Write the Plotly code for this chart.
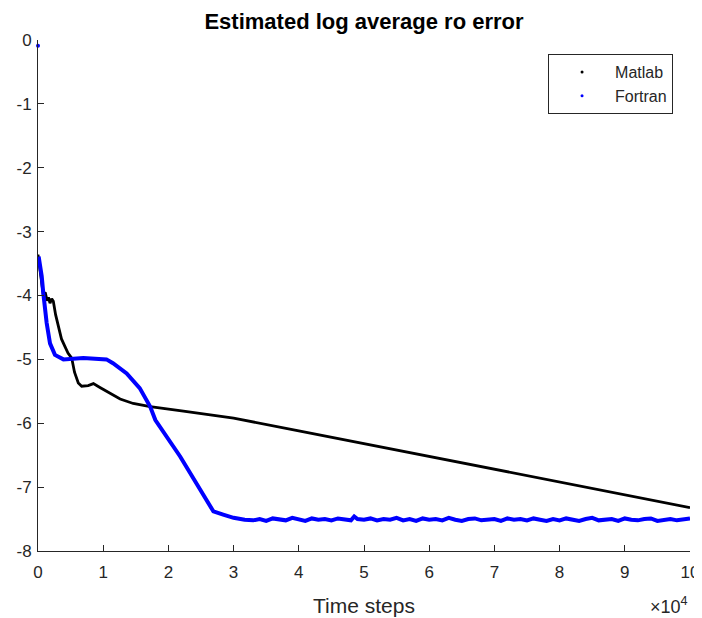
import plotly.graph_objects as go

# Time steps (raw) and estimated log average ro error
matlab_steps = [0, 400, 810, 1100, 1400, 1600, 1840, 2100, 2350, 2700, 3110, 3600, 4140,
                4600, 5170, 5600, 6180, 6700, 7700, 8500, 9500, 10500, 12600, 14600,
                17200, 22300, 30000, 40000, 50000, 60000, 70000, 80000, 90000, 100000]
matlab_err = [-3.36, -3.70, -3.99, -3.95, -4.08, -4.03, -4.12, -4.05, -4.09, -4.30, -4.49,
              -4.68, -4.80, -4.90, -4.98, -5.20, -5.37, -5.42, -5.41, -5.38, -5.44, -5.50,
              -5.62, -5.69, -5.74, -5.81, -5.92, -6.12, -6.32, -6.52, -6.72, -6.92, -7.12, -7.32]

fortran_steps = [0, 100, 570, 810, 1330, 1840, 2600, 3900, 6950, 10500, 11500, 13600,
                 15600, 17200, 18000, 21800, 26900, 28400, 30000, 31700,
                 33000, 34000, 35000, 36000, 37000, 38000, 39000, 40000, 41000, 42000,
                 43000, 44000, 45000, 46000, 47000, 48000, 48500, 49000, 50000,
                 51000, 52000, 53000, 54000, 55000, 56000, 57000, 58000, 59000, 60000,
                 61000, 62000, 63000, 64000, 65000, 66000, 67000, 68000, 69000, 70000,
                 71000, 72000, 73000, 74000, 75000, 76000, 77000, 78000, 79000, 80000,
                 81000, 82000, 83000, 84000, 85000, 86000, 87000, 88000, 89000, 90000,
                 91000, 92000, 93000, 94000, 95000, 96000, 97000, 98000, 99000, 100000]
fortran_err = [-0.09, -3.39, -3.70, -3.96, -4.43, -4.75, -4.93, -5.00, -4.98, -5.00, -5.06,
               -5.22, -5.45, -5.74, -5.95, -6.52, -7.38, -7.43, -7.48, -7.51,
               -7.52, -7.50, -7.53, -7.49, -7.51, -7.52, -7.48, -7.50, -7.53, -7.49,
               -7.51, -7.50, -7.52, -7.49, -7.51, -7.52, -7.46, -7.50, -7.51,
               -7.49, -7.52, -7.50, -7.51, -7.48, -7.52, -7.50, -7.53, -7.49, -7.51,
               -7.50, -7.52, -7.48, -7.51, -7.53, -7.50, -7.49, -7.52, -7.51, -7.50,
               -7.53, -7.49, -7.51, -7.50, -7.52, -7.49, -7.51, -7.53, -7.50, -7.52,
               -7.49, -7.51, -7.53, -7.50, -7.48, -7.52, -7.51, -7.50, -7.53, -7.49,
               -7.51, -7.52, -7.50, -7.49, -7.53, -7.51, -7.50, -7.52, -7.50, -7.49]

x_tickvals = [0, 10000, 20000, 30000, 40000, 50000, 60000, 70000, 80000, 90000, 100000]
x_ticktext = ["0", "1", "2", "3", "4", "5", "6", "7", "8", "9", "10"]
y_tickvals = [0, -1, -2, -3, -4, -5, -6, -7, -8]
y_ticktext = ["0", "-1", "-2", "-3", "-4", "-5", "-6", "-7", "-8"]

FONT = "Liberation Sans, Arial, Helvetica, sans-serif"
AX = "#262626"

fig = go.Figure()
fig.add_trace(go.Scatter(x=matlab_steps, y=matlab_err, mode="lines",
                         line=dict(color="#000000", width=2.8), showlegend=False,
                         name="Matlab"))
# first Fortran sample is an isolated dot; the rest form the dense curve
fig.add_trace(go.Scatter(x=fortran_steps[:1], y=fortran_err[:1], mode="markers",
                         marker=dict(color="#0000ff", size=4), showlegend=False,
                         name="Fortran", cliponaxis=False))
fig.add_trace(go.Scatter(x=fortran_steps[1:], y=fortran_err[1:], mode="lines",
                         line=dict(color="#0000ff", width=4), showlegend=False,
                         name="Fortran"))
# legend entries (dot markers, like MATLAB '.' style)
fig.add_trace(go.Scatter(x=[None], y=[None], mode="markers", name="Matlab",
                         marker=dict(color="#000000", size=3)))
fig.add_trace(go.Scatter(x=[None], y=[None], mode="markers", name="Fortran",
                         marker=dict(color="#0000ff", size=3)))

# the page body adds an 8px margin, so the figure is 8px smaller on each side
fig.update_layout(
    width=694, height=610,
    margin=dict(l=30, r=12, t=32, b=67, autoexpand=False),
    paper_bgcolor="white", plot_bgcolor="white",
    font=dict(family=FONT, color=AX, size=16),
    title=dict(text="<b>Estimated log average ro error</b>", x=0.5, xref="paper",
               xanchor="center",
               y=1 - 13 / 610, yref="container", yanchor="middle",
               font=dict(size=22, color="#000000", family=FONT)),
    legend=dict(x=0.974, y=0.9726, xanchor="right", yanchor="top",
                bgcolor="white", bordercolor=AX, borderwidth=1,
                itemwidth=56, font=dict(size=16, color=AX, family=FONT)),
    xaxis=dict(range=[0, 100000], tickvals=x_tickvals, ticktext=x_ticktext,
               showline=True, linecolor=AX, linewidth=1, ticks="inside",
               ticklen=6, tickcolor=AX, showgrid=False, zeroline=False,
               tickfont=dict(size=17, color=AX), mirror=False,
               automargin=False, ticklabelstandoff=6),
    yaxis=dict(range=[-8, 0], tickvals=y_tickvals, ticktext=y_ticktext,
               showline=True, linecolor=AX, linewidth=1, ticks="inside",
               ticklen=6, tickcolor=AX, showgrid=False, zeroline=False,
               tickfont=dict(size=17, color=AX), mirror=False,
               automargin=False, ticklabelstandoff=2),
    annotations=[
        dict(text="Time steps", x=0.5, y=(551 - 605) / 511, xref="paper", yref="paper",
             xanchor="center", yanchor="middle", showarrow=False,
             font=dict(size=21, color=AX, family=FONT)),
        dict(text="×10<sup>4</sup>", x=1.0, y=(551 - 605) / 511, xref="paper", yref="paper",
             xanchor="right", yanchor="middle", showarrow=False,
             font=dict(size=18, color=AX, family=FONT)),
    ],
)

fig.write_html("out.html")
